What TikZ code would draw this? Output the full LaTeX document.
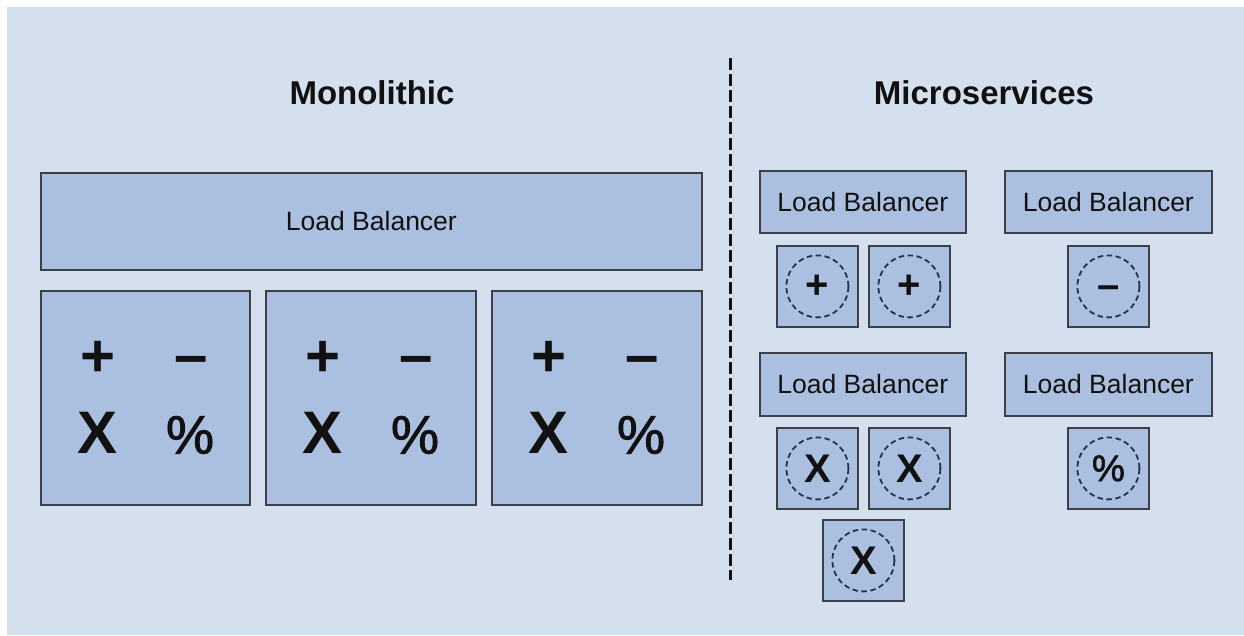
\documentclass[tikz,border=0pt]{standalone}
\usepackage{fontspec}
\setmainfont{Liberation Sans}
\newfontfamily\pctfamily[FakeBold=1.6]{Liberation Sans}

\definecolor{bgblue}{HTML}{D5E0EE}
\definecolor{boxblue}{HTML}{ABBFE0}
\definecolor{edgegray}{HTML}{3C4048}
\definecolor{ringcol}{HTML}{27314A}
\definecolor{inkblack}{HTML}{111111}

\newcommand\titlesize{\fontsize{33pt}{38pt}\selectfont\bfseries}
\newcommand\lbsize{\fontsize{26.5pt}{30pt}\selectfont}
\newcommand\bigsym{\fontsize{60pt}{64pt}\selectfont}
\newcommand\bigpct{\fontsize{54pt}{60pt}\selectfont\pctfamily}
\newcommand\smallsym{\fontsize{40pt}{44pt}\selectfont}
\newcommand\smallpct{\fontsize{37pt}{42pt}\selectfont\pctfamily}

\tikzset{
  panel/.style 2 args={draw=edgegray, line width=1.8pt, fill=boxblue,
    inner sep=0pt, anchor=north west,
    minimum width=#1pt, minimum height=#2pt, text=inkblack},
  heading/.style={font=\titlesize, text=inkblack, inner sep=0pt},
  balancer/.style 2 args={panel={#1}{#2}, font=\lbsize},
  service/.style={panel={81}{81}},
  ring/.style={circle, draw=ringcol, line width=1.8pt,
    dash pattern=on 5.5pt off 3.5pt, minimum size=62pt, inner sep=0pt,
    text=inkblack},
  bigglyph/.style={inner sep=0pt, text=inkblack, font=\bigsym\bfseries},
  divider/.style={draw=inkblack, line width=3pt, dash pattern=on 12pt off 4pt}
}

\begin{document}
\begin{tikzpicture}[x=1pt, y=-1pt]
  \useasboundingbox (0,0) rectangle (1244,635);
  \fill[white] (0,0) rectangle (1244,635);
  \fill[bgblue] (7,7) rectangle (1244,635);

  % headings
  \node[heading] (tmono) at (372,93) {Monolithic};
  \node[heading] (tmicro) at (984,93) {Microservices};

  % separator between the two halves
  \coordinate (dtop) at (730,58);
  \coordinate (dbot) at (730,580);
  \draw[divider] (dtop) -- (dbot);

  % monolithic side: one balancer over three full copies of the app
  \node[balancer={661}{97}] (mlb) at (40,172) {Load Balancer};
  \foreach \b/\x/\w in {m1/40/209, m2/265/210, m3/491/210} {
    \node[panel={\w}{214}] (\b) at (\x,290) {};
    \node[bigglyph] (\b-plus)  at (\x+58,359) {+};
    \node[bigglyph] (\b-minus) at (\x+151,366) {–};
    \node[bigglyph] (\b-times) at (\x+58,433) {X};
    \node[bigglyph, font=\bigpct] (\b-pct) at (\x+150,435) {\%};
  }

  % microservices side: one balancer per service
  \node[balancer={206}{62}] (lb1) at (759,170) {Load Balancer};
  \node[balancer={207}{62}] (lb2) at (1004,170) {Load Balancer};
  \node[balancer={206}{63}] (lb3) at (759,352) {Load Balancer};
  \node[balancer={207}{63}] (lb4) at (1004,352) {Load Balancer};

  \node[service] (sa)  at (776,245) {};
  \node[service] (sb)  at (868,245) {};
  \node[service] (sm)  at (1067,245) {};
  \node[service] (sx1) at (776,427) {};
  \node[service] (sx2) at (868,427) {};
  \node[service] (sx3) at (822,519) {};
  \node[service] (sp)  at (1067,427) {};

  \node[ring, font=\smallsym\bfseries] (ra)  at (sa.center)  {+};
  \node[ring, font=\smallsym\bfseries] (rb)  at (sb.center)  {+};
  \node[ring] (rm) at (sm.center) {};
  \node[inner sep=0pt, text=inkblack, font=\smallsym\bfseries]
    (rm-sign) at ([yshift=-6pt]rm.center) {–};
  \node[ring, font=\smallsym\bfseries] (rx1) at (sx1.center) {X};
  \node[ring, font=\smallsym\bfseries] (rx2) at (sx2.center) {X};
  \node[ring, font=\smallsym\bfseries] (rx3) at (sx3.center) {X};
  \node[ring, font=\smallpct] (rp)  at (sp.center)  {\%};
\end{tikzpicture}
\end{document}
